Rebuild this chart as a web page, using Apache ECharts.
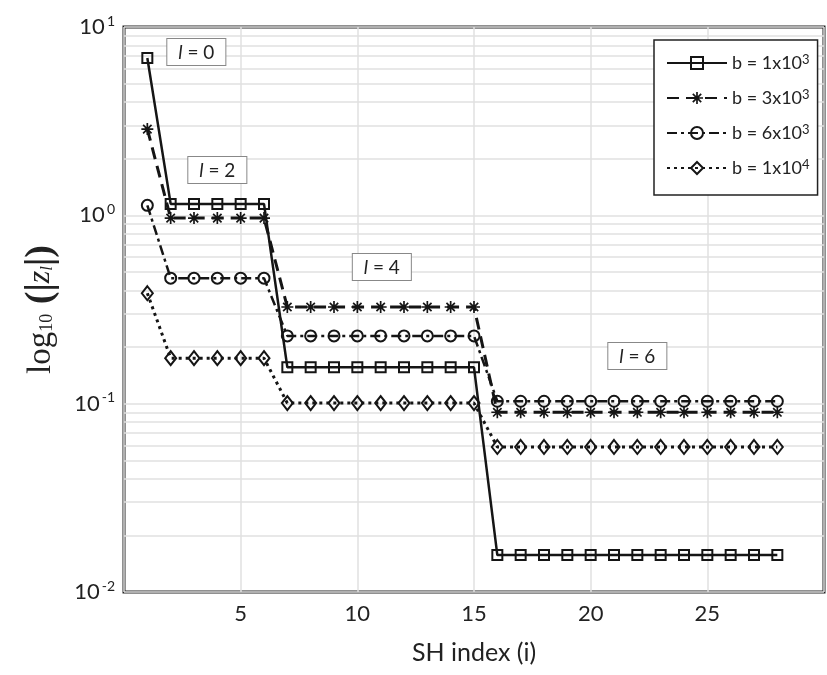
<!DOCTYPE html>
<html>
<head>
<meta charset="utf-8">
<script src="https://cdn.jsdelivr.net/npm/echarts@6/dist/echarts.min.js"></script>
<style>
  html, body { margin: 0; padding: 0; background: #fff; }
  #chart { width: 827px; height: 675px; }
</style>
</head>
<body>
<div id="chart"></div>
<script>
// SH index on the x axis
const shIndex = [1, 2, 3, 4, 5, 6, 7, 8, 9, 10, 11, 12, 13, 14, 15, 16, 17, 18, 19, 20, 21, 22, 23, 24, 25, 26, 27, 28];

// |z_l| per b value
const b1e3 = [6.84, 1.15, 1.15, 1.15, 1.15, 1.15, 0.156, 0.156, 0.156, 0.156, 0.156, 0.156, 0.156, 0.156, 0.156,
  0.0157, 0.0157, 0.0157, 0.0157, 0.0157, 0.0157, 0.0157, 0.0157, 0.0157, 0.0157, 0.0157, 0.0157, 0.0157];
const b3e3 = [2.87, 0.967, 0.967, 0.967, 0.967, 0.967, 0.326, 0.326, 0.326, 0.326, 0.326, 0.326, 0.326, 0.326, 0.326,
  0.090, 0.090, 0.090, 0.090, 0.090, 0.090, 0.090, 0.090, 0.090, 0.090, 0.090, 0.090, 0.090];
const b6e3 = [1.13, 0.464, 0.464, 0.464, 0.464, 0.464, 0.229, 0.229, 0.229, 0.229, 0.229, 0.229, 0.229, 0.229, 0.229,
  0.103, 0.103, 0.103, 0.103, 0.103, 0.103, 0.103, 0.103, 0.103, 0.103, 0.103, 0.103, 0.103];
const b1e4 = [0.386, 0.1745, 0.1745, 0.1745, 0.1745, 0.1745, 0.1007, 0.1007, 0.1007, 0.1007, 0.1007, 0.1007, 0.1007, 0.1007, 0.1007,
  0.0589, 0.0589, 0.0589, 0.0589, 0.0589, 0.0589, 0.0589, 0.0589, 0.0589, 0.0589, 0.0589, 0.0589, 0.0589];

const seriesNames = ["b = 1x10^3", "b = 3x10^3", "b = 6x10^3", "b = 1x10^4"];
const xTicks = [5, 10, 15, 20, 25];
// minor log grid lines (2..9 in each decade)
const minorGrid = [0.02, 0.03, 0.04, 0.05, 0.06, 0.07, 0.08, 0.09,
  0.2, 0.3, 0.4, 0.5, 0.6, 0.7, 0.8, 0.9,
  2, 3, 4, 5, 6, 7, 8, 9];

// "l = n" boxes, placed in data coordinates
const annotLabels = ["0", "2", "4", "6"];
const annotX = [3.1, 4.0, 11.05, 22.0];
const annotY = [7.36, 1.74, 0.531, 0.179];

const font = "Lato";
const ink = "#151515";
const gridGrey = "#e0e0e0";

// asterisk made of four thin bars
const starPath = "path://M0,4.3L10,4.3L10,5.7L0,5.7Z M4.3,0L5.7,0L5.7,10L4.3,10Z M1,2L2,1L9,8L8,9Z M8,1L9,2L2,9L1,8Z";

function pairs(vals) {
  return shIndex.map((x, i) => [x, vals[i]]);
}

let mychart = echarts.init(document.getElementById("chart"));
mychart.setOption({
  animation: false,
  backgroundColor: "#fff",
  grid: {
    left: 124,
    top: 27,
    right: -11,
    bottom: 83,
    show: true,
    borderColor: "#222",
    borderWidth: 3,
    backgroundColor: "transparent"
  },
  xAxis: {
    type: "value",
    min: 0,
    max: 30,
    interval: 5,
    name: "SH index (i)",
    nameLocation: "middle",
    nameGap: 48,
    nameTextStyle: { fontFamily: font, fontSize: 25, color: "#222" },
    axisLine: { show: false },
    axisTick: { show: false },
    axisLabel: {
      margin: 11,
      fontFamily: font,
      fontSize: 22,
      color: "#222",
      formatter: function (v) {
        return xTicks.indexOf(v) >= 0 ? String(v) : "";
      }
    },
    splitLine: { show: true, lineStyle: { color: gridGrey, width: 1.5 } }
  },
  yAxis: {
    type: "log",
    logBase: 10,
    min: 0.01,
    max: 10,
    splitNumber: 3,
    name: "{a|log}{s|10}{p| (|}{z|z}{l|l}{p||)}",
    nameLocation: "middle",
    nameRotate: 90,
    nameGap: 64,
    nameTextStyle: {
      rich: {
        a: { fontFamily: "Liberation Serif", fontSize: 33, color: "#222" },
        s: { fontFamily: "Liberation Serif", fontSize: 18, color: "#222", padding: [13, 0, 0, 0] },
        p: { fontFamily: "Liberation Serif", fontSize: 38, fontWeight: "bold", color: "#222" },
        z: { fontFamily: "Liberation Serif", fontSize: 32, fontStyle: "italic", color: "#222" },
        l: { fontFamily: "Liberation Serif", fontSize: 17, fontStyle: "italic", color: "#222", padding: [13, 0, 0, 0] }
      }
    },
    axisLine: { show: false },
    axisTick: { show: false },
    axisLabel: {
      margin: 9,
      formatter: function (v) {
        return "{n|10}{e|" + Math.round(Math.log10(v)) + "}";
      },
      rich: {
        n: { fontFamily: font, fontSize: 22, color: "#222", lineHeight: 26 },
        e: { fontFamily: font, fontSize: 14, color: "#222", verticalAlign: "top", lineHeight: 14, padding: [0, 0, 18, 2] }
      }
    },
    splitLine: { show: true, lineStyle: { color: gridGrey, width: 1.5 } }
  },
  legend: {
    data: seriesNames,
    orient: "vertical",
    left: 654,
    top: 40,
    padding: [13, 8, 12, 12],
    itemGap: 10,
    itemWidth: 60,
    itemHeight: 15,
    backgroundColor: "#fff",
    borderColor: "#222",
    borderWidth: 1.5,
    borderRadius: 0,
    formatter: function (name) {
      let parts = name.split("^");
      return "{t|" + parts[0] + "}{s|" + parts[1] + "}";
    },
    textStyle: {
      color: "#222",
      rich: {
        t: { fontFamily: font, fontSize: 18, color: "#222", lineHeight: 20 },
        s: { fontFamily: font, fontSize: 13, color: "#222", verticalAlign: "top", lineHeight: 13, padding: [0, 0, 12, 0] }
      }
    }
  },
  series: [
    {
      name: seriesNames[0],
      type: "line",
      data: pairs(b1e3),
      symbol: "rect",
      symbolSize: 10,
      z: 4,
      lineStyle: { color: ink, width: 2.5, type: "solid" },
      itemStyle: { color: "rgba(255,255,255,0)", borderColor: ink, borderWidth: 2 },
      markLine: {
        silent: true,
        symbol: "none",
        z: 1,
        label: { show: false },
        lineStyle: { color: gridGrey, width: 1.5, type: "solid" },
        data: minorGrid.map(v => ({ yAxis: v }))
      },
      markPoint: {
        silent: true,
        symbol: "rect",
        symbolSize: 0,
        z: 6,
        label: {
          show: true,
          position: "inside",
          formatter: function (p) {
            return "{i|l}{r| = " + p.name + "}";
          },
          backgroundColor: "#fff",
          borderColor: "#888",
          borderWidth: 1,
          padding: [4, 11, 3, 11],
          rich: {
            i: { fontFamily: font, fontSize: 19, fontStyle: "italic", color: "#222" },
            r: { fontFamily: font, fontSize: 19, color: "#222" }
          }
        },
        data: annotLabels.map((t, i) => ({ name: t, coord: [annotX[i], annotY[i]] }))
      }
    },
    {
      name: seriesNames[1],
      type: "line",
      data: pairs(b3e3),
      symbol: starPath,
      symbolSize: 12,
      z: 3,
      lineStyle: { color: ink, width: 3, type: [12, 7] },
      itemStyle: { color: ink, borderWidth: 0 }
    },
    {
      name: seriesNames[2],
      type: "line",
      data: pairs(b6e3),
      symbol: "circle",
      symbolSize: 11,
      z: 3,
      lineStyle: { color: ink, width: 2.5, type: [10, 4, 3, 4] },
      itemStyle: { color: "rgba(255,255,255,0)", borderColor: ink, borderWidth: 2 }
    },
    {
      name: seriesNames[3],
      type: "line",
      data: pairs(b1e4),
      symbol: "diamond",
      symbolSize: [11, 14],
      z: 3,
      lineStyle: { color: ink, width: 3, type: [3, 4] },
      itemStyle: { color: "rgba(255,255,255,0)", borderColor: ink, borderWidth: 2 }
    }
  ]
});
</script>
</body>
</html>
